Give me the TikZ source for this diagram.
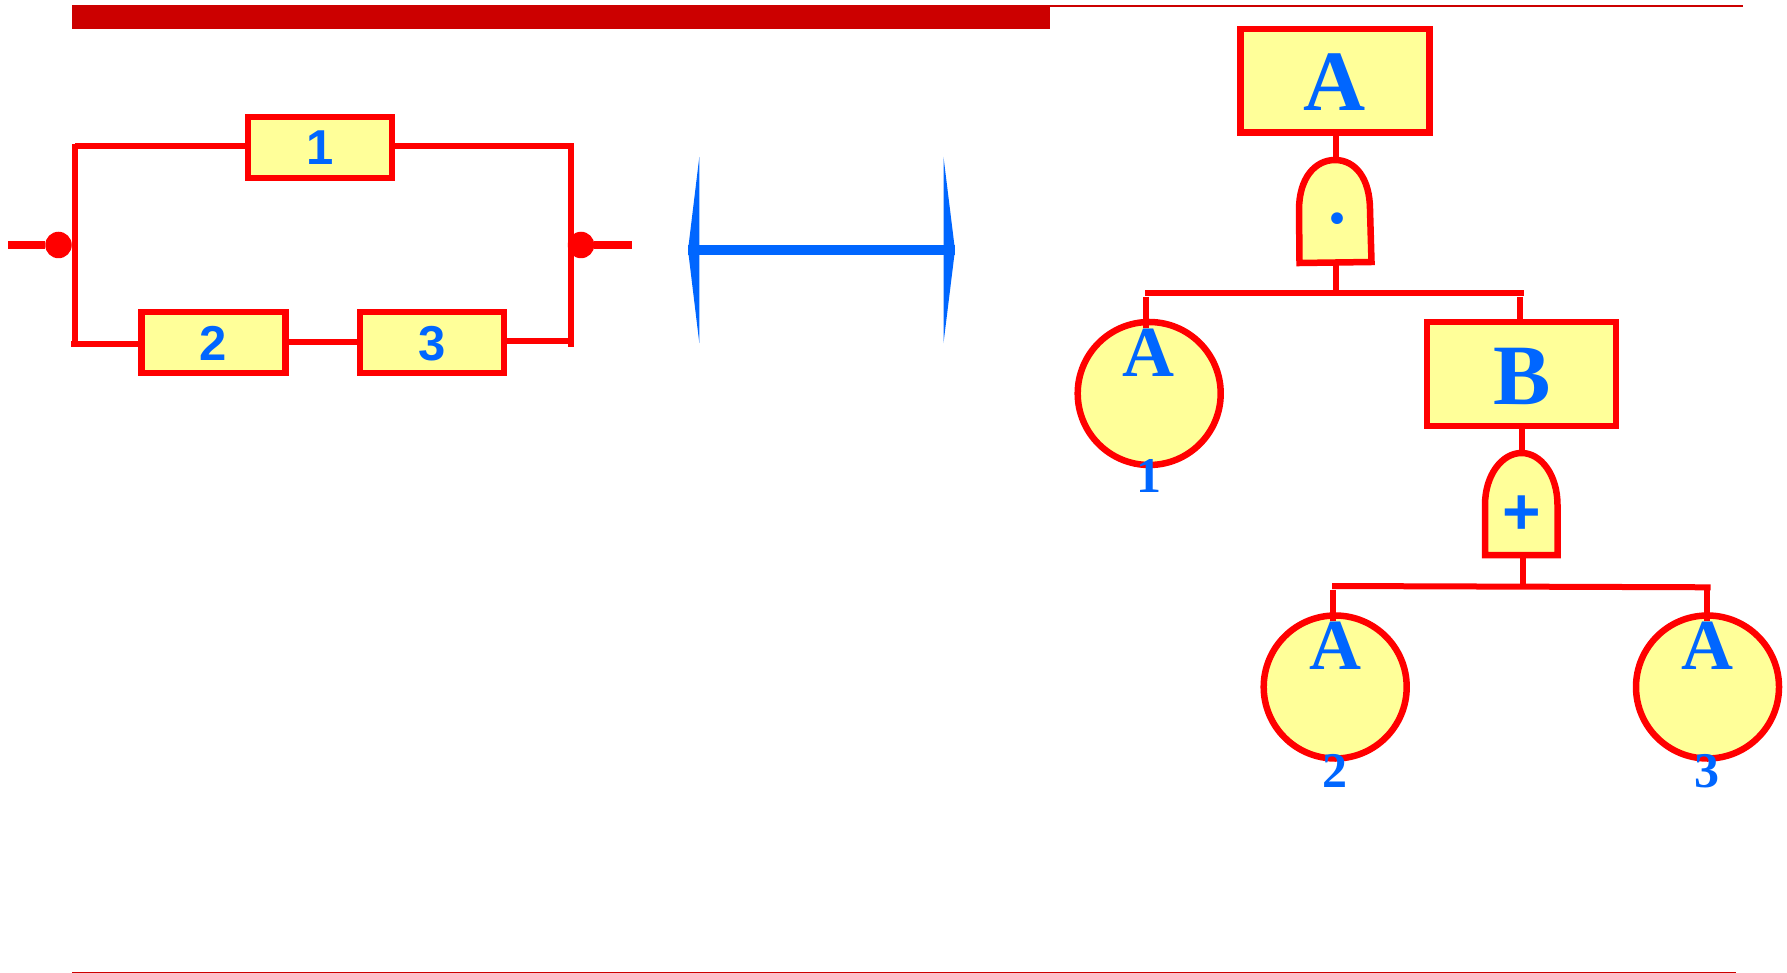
\documentclass[tikz,border=0pt]{standalone}
\usepackage{fontspec}
\setmainfont{Liberation Serif}
\newfontfamily\arialf{Liberation Sans}
\usetikzlibrary{calc}
\definecolor{cred}{HTML}{FF0000}
\definecolor{cbar}{HTML}{CC0000}
\definecolor{cyel}{HTML}{FFFF99}
\definecolor{cblue}{HTML}{0066FF}
\tikzset{
  x=1pt,y=-1pt,
  wire/.style={draw=cred,line width=6pt},
  thick wire/.style={draw=cred,line width=8.5pt},
  boxsmall/.style={rectangle,draw=cred,fill=cyel,line width=6.5pt,minimum width=144pt,minimum height=61pt,inner sep=0pt},
  boxbig/.style={rectangle,draw=cred,fill=cyel,line width=6.5pt,minimum width=189pt,minimum height=103.5pt,inner sep=0pt},
  basic/.style={circle,draw=cred,fill=cyel,line width=6.5pt,minimum size=143pt,inner sep=0pt},
  gate/.style={draw=cred,fill=cyel,line width=6.5pt,miter limit=10},
  dot/.style={circle,fill=cred,minimum size=26.5pt,inner sep=0pt},
  lbl/.style={anchor=base,inner sep=0pt,text=cblue},
  numlbl/.style={lbl,font=\arialf\fontsize{49}{49}\selectfont\bfseries},
  serifbig/.style={lbl,font=\fontsize{86}{86}\selectfont\bfseries},
  serifmid/.style={lbl,font=\fontsize{72}{72}\selectfont\bfseries},
  serifnum/.style={lbl,font=\fontsize{50}{50}\selectfont\bfseries},
}
\begin{document}
\begin{tikzpicture}
\useasboundingbox (0,0) rectangle (1787,973);
% header and footer rules
\fill[cbar] (72,5) rectangle (1050,29);
\fill[cbar] (1050,5) rectangle (1743,7.2);
\fill[cbar] (72,971.8) rectangle (1736,973);

% reliability block diagram
\node[boxsmall] (b1) at (320,147.7) {};
\node[boxsmall] (b2) at (213.3,342.3) {};
\node[boxsmall] (b3) at (432,342.3) {};
\node[numlbl] (n1) at (320.5,165) {1};
\node[numlbl] (n2) at (213,360) {2};
\node[numlbl] (n3) at (432,360) {3};
\node[dot] (dl) at (58.5,245) {};
\node[dot] (dr) at (581,245) {};
\coordinate (tl) at (75,146.3);
\coordinate (bl) at (75,343.7);
\coordinate (tr) at (571,146.3);
\coordinate (br) at (571,341);
\coordinate (inl) at (8,245);
\coordinate (outr) at (632,245);
\draw[wire] (75,144) -- (75,346.7);
\draw[wire] (571,144) -- (571,346.7);
\draw[wire] (tl) -- (b1.west |- tl);
\draw[wire] (b1.east |- tr) -- (574,146.3);
\draw[wire] (71,343.7) -- (b2.west |- bl);
\draw[wire] (b2.east) -- (b3.west);
\draw[wire] (b3.east |- br) -- (br);
\draw[thick wire] (inl) -- (dl);
\draw[thick wire] (dr) -- (outr);

% equivalence arrow
\coordinate (al) at (688,250);
\coordinate (ar) at (955,250);
\draw[cblue,line width=10.7pt] (al) -- (ar);
\fill[cblue] (al) -- (699.3,157) -- (699.3,343) -- cycle;
\fill[cblue] (ar) -- (943.5,157) -- (943.5,343) -- cycle;

% fault tree
\coordinate (bus1l) at (1145,292.7);
\coordinate (bus1r) at (1523.5,292.7);
\coordinate (bus2l) at (1332,586);
\coordinate (bus2r) at (1710.5,587.3);
\node[boxbig] (A) at (1335,81) {};
\node[boxbig] (B) at (1521.5,374) {};
\node[basic] (c1) at (1149.2,393.5) {};
\node[basic] (c2) at (1335.2,687) {};
\node[basic] (c3) at (1707.5,687) {};

\draw[gate] (1299.5,263) -- (1299,210) .. controls (1299,178) and (1315,160) .. (1335,160) .. controls (1355,160) and (1370,178) .. (1370,210) -- (1371.5,262) -- cycle;
\draw[gate] (1485,555) -- (1485,505) .. controls (1485,475) and (1502,453) .. (1521.5,453) .. controls (1541,453) and (1557.5,475) .. (1557.5,505) -- (1557.5,555) -- cycle;
\coordinate (g1t) at (1335.6,160);
\coordinate (g1b) at (1336,263);
\coordinate (g2t) at (1522,453);
\coordinate (g2b) at (1523,555);

\draw[wire] (A.south -| g1t) -- (g1t);
\draw[wire] (g1b) -- (g1b |- bus1l);
\draw[line width=6pt,cred] (bus1l) -- (bus1r);
\draw[wire] (1146,296.7) -- (1146,327.7);
\draw[wire] (1520,296.7) -- (1520 ,320);
\draw[wire] (B.south -| g2t) -- (g2t);
\draw[wire] (g2b) -- (1523,587);
\draw[line width=6pt,cred] (bus2l) -- (bus2r);
\draw[wire] (1333,590) -- (1333,621);
\draw[wire] (1706.7,590) -- (1706.7,621);

\node[serifbig] (tA) at (1335,111) {A};
\node[serifbig] (tB) at (1522,404.7) {B};
\node[serifmid] (t1A) at (1148.5,376) {A};
\node[serifnum] (t1n) at (1149,492.7) {1};
\node[serifmid] (t2A) at (1335,669) {A};
\node[serifnum] (t2n) at (1334.5,787) {2};
\node[serifmid] (t3A) at (1707,669) {A};
\node[serifnum] (t3n) at (1706.5,787) {3};
\node[lbl,font=\fontsize{72}{72}\selectfont\bfseries] (gdot) at (1337,224) {.};
\node[lbl,font=\arialf\fontsize{66}{66}\selectfont\bfseries] (gplus) at (1522,534) {+};
\end{tikzpicture}
\end{document}
